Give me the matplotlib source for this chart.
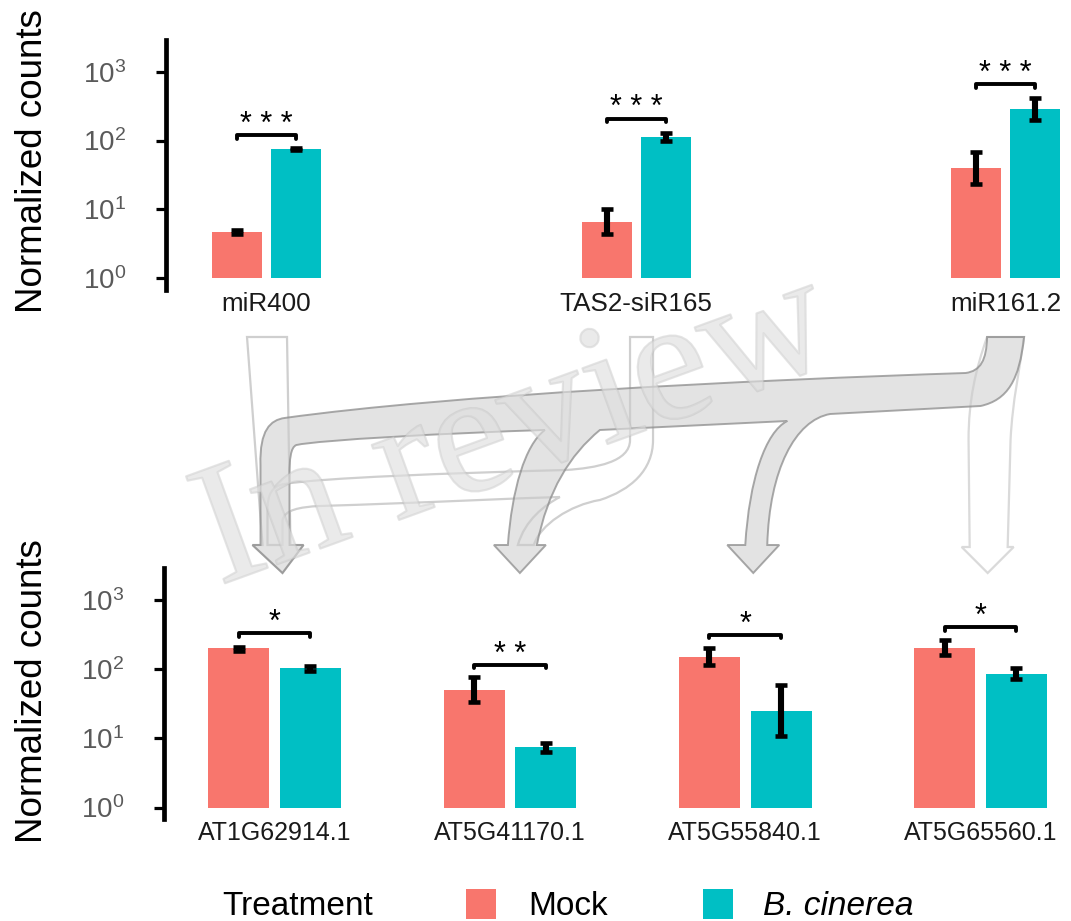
import numpy as np
import matplotlib
matplotlib.use("Agg")
import matplotlib.pyplot as plt
from matplotlib.path import Path
from matplotlib.patches import PathPatch, Rectangle
from matplotlib import font_manager
import matplotlib.patheffects as pe
from matplotlib.ticker import FixedLocator, NullLocator

# ---------------------------------------------------------------- data
treatments = ["Mock", "B. cinerea"]
colors = ["#F8766D", "#00BFC4"]

srna_names = ["miR400", "TAS2-siR165", "miR161.2"]
srna_mock = [4.75, 6.6, 40]
srna_mock_lo = [4.45, 4.4, 23.5]
srna_mock_hi = [5.1, 10.2, 69]
srna_bc = [74.5, 113, 283]
srna_bc_lo = [72, 97, 196]
srna_bc_hi = [77, 128, 414]
srna_sig = ["* * *", "* * *", "* * *"]
srna_bracket = [120, 209, 661]

target_names = ["AT1G62914.1", "AT5G41170.1", "AT5G55840.1", "AT5G65560.1"]
target_mock = [200, 49.5, 150, 202]
target_mock_lo = [184, 34, 115, 160]
target_mock_hi = [211, 78, 204, 264]
target_bc = [103, 7.5, 24.7, 86]
target_bc_lo = [93, 6.3, 10.9, 73]
target_bc_hi = [111, 8.5, 59, 105]
target_sig = ["*", "* *", "*", "*"]
target_bracket = [331, 116, 314, 405]

# ---------------------------------------------------------------- style
W, H, DPI = 1071, 921, 100
plt.rcParams["font.family"] = ["Liberation Sans", "DejaVu Sans"]
plt.rcParams["mathtext.fontset"] = "custom"
plt.rcParams["mathtext.rm"] = "Liberation Sans"
plt.rcParams["mathtext.it"] = "Liberation Sans:italic"

installed = {f.name for f in font_manager.fontManager.ttflist}
if "Liberation Sans Narrow" in installed:
    legend_family, legend_size = "Liberation Sans Narrow", 29.5
else:
    legend_family, legend_size = "Liberation Sans", 24

fig = plt.figure(figsize=(W / DPI, H / DPI), dpi=DPI)

YLIM = (10 ** -0.17, 10 ** 3.46)


def panel(rect, names, mock, mlo, mhi, bc, blo, bhi, sig, bracket,
          width, offset, xlim, label_size):
    ax = fig.add_axes(rect)
    x = np.arange(len(names))
    series = [(mock, mlo, mhi), (bc, blo, bhi)]
    for k, (vals, lo, hi) in enumerate(series):
        xs = x + (2 * k - 1) * offset
        vals = np.asarray(vals, float)
        ax.bar(xs, vals - 1, bottom=1, width=width, color=colors[k],
               edgecolor="none", zorder=2)
        yerr = [vals - np.asarray(lo, float), np.asarray(hi, float) - vals]
        ax.errorbar(xs, vals, yerr=yerr, fmt="none", ecolor="black",
                    elinewidth=4.4, capsize=4.6, capthick=3.3, zorder=3)
    for i, (s, yb) in enumerate(zip(sig, bracket)):
        x1, x2 = i - offset, i + offset
        drop = 10 ** -0.05
        ax.plot([x1, x1, x2, x2], [yb * drop, yb, yb, yb * drop],
                color="black", lw=2.8, solid_capstyle="round",
                solid_joinstyle="round", zorder=3)
        ax.annotate(s, (i, yb), xytext=(0, 1.5), textcoords="offset points",
                    ha="center", va="baseline", fontsize=22, color="black")
    ax.set_yscale("log")
    ax.set_ylim(*YLIM)
    ax.set_xlim(*xlim)
    ax.yaxis.set_major_locator(FixedLocator([1, 10, 100, 1000]))
    ax.yaxis.set_minor_locator(NullLocator())
    ax.set_xticks(x)
    ax.set_xticklabels(names, fontsize=label_size, color="#1A1A1A")
    ax.tick_params(axis="x", length=0, pad=1.5)
    ax.tick_params(axis="y", length=7.2, width=2.3, pad=21.5,
                   labelsize=20, labelcolor="#5A5A5A", color="black")
    for side in ("top", "right", "bottom"):
        ax.spines[side].set_visible(False)
    ax.spines["left"].set_linewidth(3.4)
    ax.patch.set_visible(False)
    return ax


ax_top = panel([166 / W, 1 - 290 / H, (1068 - 166) / W, 250 / H],
               srna_names, srna_mock, srna_mock_lo, srna_mock_hi,
               srna_bc, srna_bc_lo, srna_bc_hi, srna_sig, srna_bracket,
               0.1353, 0.0798, (-0.272, 2.169), 18.7)
ax_bot = panel([164 / W, 1 - 819.3 / H, (1068 - 164) / W, 251 / H],
               target_names, target_mock, target_mock_lo, target_mock_hi,
               target_bc, target_bc_lo, target_bc_hi, target_sig,
               target_bracket, 0.259, 0.152, (-0.4694, 3.371), 18)

# group centres in figure pixels (y measured downward)
T = [ax_top.transData.transform((i, 1))[0] for i in range(len(srna_names))]
B = [ax_bot.transData.transform((i, 1))[0] for i in range(len(target_names))]

# ---------------------------------------------------------------- overlay
ov = fig.add_axes([0, 0, 1, 1])
ov.set_xlim(0, W)
ov.set_ylim(H, 0)
ov.axis("off")


def build_path(segments):
    verts, codes = [], []
    for kind, pts in segments:
        if kind == "M":
            verts.append(pts[0])
            codes.append(Path.MOVETO)
        elif kind == "L":
            verts.extend(pts)
            codes += [Path.LINETO] * len(pts)
        else:
            verts.extend(pts)
            codes += [Path.CURVE4] * 3
    verts.append(verts[0])
    codes.append(Path.CLOSEPOLY)
    return Path(verts, codes)


Y0, YB, YT = 337, 545, 573
hollow_kw = dict(facecolor="white", edgecolor="#cfcfcf", lw=1.6, zorder=1)

# miR400 -> AT1G62914.1
h1 = [("M", [(T[0] - 19.5, Y0)]),
      ("L", [(T[0] + 20.5, Y0), (B[0] + 16, YB), (B[0] + 29, YB),
             (B[0] + 8, YT), (B[0] - 22, YB), (B[0] - 12, YB)])]
ov.add_patch(PathPatch(build_path(h1), **hollow_kw))

# TAS2-siR165 -> AT1G62914.1 / AT5G41170.1
m = T[1]
h2 = [("M", [(m - 6, Y0)]),
      ("L", [(m - 6, 440)]),
      ("C", [(m - 6, 462), (m - 40, 468), (m - 70, 470)]),
      ("C", [(B[0] + 175, 473), (B[0] + 45, 478), (B[0] + 10, 484)]),
      ("C", [(B[0] - 3, 486), (B[0] - 7, 495), (B[0] - 7, 510)]),
      ("L", [(B[0] - 7, YB), (B[0] + 8, YB), (B[0] + 8, 520)]),
      ("C", [(B[0] + 10, 510), (B[0] + 25, 507), (B[0] + 45, 506)]),
      ("C", [(B[0] + 145, 503), (B[1] + 10, 498), (B[1] + 50, 497)]),
      ("C", [(B[1] + 35, 505), (B[1] + 15, 520), (B[1] + 8, YB)]),
      ("L", [(B[1] + 24, YB)]),
      ("C", [(B[1] + 30, 525), (B[1] + 60, 505), (B[1] + 90, 500)]),
      ("C", [(m - 5, 490), (m + 17, 470), (m + 17, 440)]),
      ("L", [(m + 17, Y0)])]
ov.add_patch(PathPatch(build_path(h2), **hollow_kw))

# miR161.2 -> AT5G65560.1
r = T[2]
tip = B[3] + 7
h4 = [("M", [(r - 18.5, Y0)]),
      ("C", [(r - 30, 370), (r - 37, 400), (r - 37, 440)]),
      ("L", [(tip - 18, 547), (tip - 26, 547), (tip, YT), (tip + 26, 547),
             (tip + 20, 547), (r + 5, 440)]),
      ("C", [(r + 7, 400), (r + 14, 370), (r + 18.5, Y0)])]
ov.add_patch(PathPatch(build_path(h4), facecolor="white",
                       edgecolor="#dadada", lw=1.6, zorder=1))

# miR161.2 -> AT5G55840.1 / AT5G41170.1 / AT1G62914.1 (shared band)
band = [("M", [(r + 18.5, Y0)]),
        ("C", [(r + 14, 380), (r + 2, 400), (r - 25, 406)]),
        ("L", [(B[2] + 85, 414)]),
        ("C", [(B[2] + 50, 420), (B[2] + 24, 470), (B[2] + 22, YB)]),
        ("L", [(B[2] + 34, YB), (B[2] + 8, YT), (B[2] - 18, YB), (B[2], YB)]),
        ("C", [(B[2] + 4, 480), (B[2] + 20, 432), (B[2] + 42, 421)]),
        ("L", [(B[1] + 90, 430)]),
        ("C", [(B[1] + 60, 455), (B[1] + 38, 490), (B[1] + 27, YB)]),
        ("L", [(B[1] + 36, YB), (B[1] + 10, YT), (B[1] - 16, YB),
               (B[1] - 2, YB)]),
        ("C", [(B[1] + 2, 490), (B[1] + 15, 445), (B[1] + 35, 430)]),
        ("C", [(B[1] - 60, 433), (B[0] + 45, 440), (B[0] + 22, 445)]),
        ("C", [(B[0] + 16, 447), (B[0] + 15, 460), (B[0] + 15, 475)]),
        ("L", [(B[0] + 15, YB), (B[0] + 29, YB), (B[0] + 8, YT),
               (B[0] - 22, YB), (B[0] - 14, YB), (B[0] - 14, 465)]),
        ("C", [(B[0] - 15, 430), (B[0] - 4, 420), (B[0] + 10, 418)]),
        ("C", [(B[0] + 175, 395), (r - 255, 380), (r - 40, 373)]),
        ("C", [(r - 25, 371), (r - 19, 360), (r - 18.5, Y0)])]
ov.add_patch(PathPatch(build_path(band), facecolor=(0.80, 0.80, 0.80, 0.55),
                       edgecolor=(0.55, 0.55, 0.55, 0.75), lw=1.4, zorder=2))

# faint "In review" stamp
ov.text(515, 433, "In review", family="Liberation Serif", fontsize=125,
        rotation=20, rotation_mode="anchor", ha="center", va="center",
        color=(0.88, 0.88, 0.88, 0.40), zorder=3,
        path_effects=[pe.Stroke(linewidth=1.6,
                                foreground=(0.74, 0.74, 0.74, 0.40)),
                      pe.Normal()])

# y-axis titles
for yc in (161.5, 691.5):
    ov.text(42, yc, "Normalized counts", rotation=90, rotation_mode="anchor",
            ha="center", va="baseline", fontsize=26.5, color="black")

# legend
ov.text(222, 915, "Treatment", family=legend_family, fontsize=legend_size,
        ha="left", va="baseline", color="black")
for k, (name, lx, tx) in enumerate(zip(treatments, (466, 703), (528, 763))):
    ov.add_patch(Rectangle((lx, 889), 30, 30, facecolor=colors[k],
                           edgecolor="none"))
    ov.text(tx, 915, name, family=legend_family, fontsize=legend_size,
            style="italic" if k == 1 else "normal",
            ha="left", va="baseline", color="black")

fig.savefig("out.png", dpi=DPI)
